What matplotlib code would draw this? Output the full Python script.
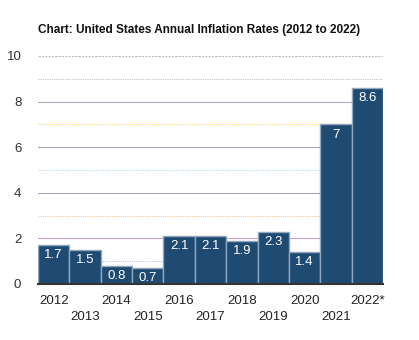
import matplotlib
matplotlib.use("Agg")
import matplotlib.pyplot as plt

years = ["2012", "2013", "2014", "2015", "2016", "2017", "2018", "2019", "2020", "2021", "2022*"]
rates = [1.7, 1.5, 0.8, 0.7, 2.1, 2.1, 1.9, 2.3, 1.4, 7.0, 8.6]
labels = ["1.7", "1.5", "0.8", "0.7", "2.1", "2.1", "1.9", "2.3", "1.4", "7", "8.6"]
yticks = [0, 2, 4, 6, 8, 10]
title = "Chart: United States Annual Inflation Rates (2012 to 2022)"

plt.rcParams['font.family'] = ['Liberation Sans', 'DejaVu Sans']

fig = plt.figure(figsize=(4.19, 3.4), dpi=100)
ax = fig.add_axes([38/419, 1-284/340, (383-38)/419, (284-56)/340])

# gridlines
minor_colors = {1: "#b8c8e0", 3: "#f0c8a0", 5: "#b8d8f0", 7: "#f0e070", 9: "#c0c0c0"}
major_colors = {2: "#c8a0c8", 4: "#b0a0b8", 6: "#b0a0b8", 8: "#b0a8b8", 10: "#c0c0c0"}
for v, c in minor_colors.items():
    ax.axhline(v, color=c, lw=0.8, ls=(0, (1, 1)), zorder=0)
for v, c in major_colors.items():
    ax.axhline(v, color=c, lw=0.8, ls=(0, (2, 1)) if v == 10 else "-", zorder=0)

x = list(range(len(years)))
bars = ax.bar(x, rates, width=1.0, color="#1f4a72", edgecolor="#8fa8c0", linewidth=1.0, zorder=2)
for xi, r, lab in zip(x, rates, labels):
    ax.text(xi, r - 0.18, lab, ha="center", va="top", color="white", fontsize=9.5, zorder=3)

ax.set_xlim(-0.5, len(years) - 0.5)
ax.set_ylim(0, 10)
ax.set_yticks(yticks)
ax.set_yticklabels([str(t) for t in yticks], fontsize=9.5, color="#333333")
ax.tick_params(axis="y", length=0, pad=12)
ax.set_xticks(x)
ax.set_xticklabels([])
ax.tick_params(axis="x", length=0)
for xi, y in zip(x, years):
    off = 0 if xi % 2 == 0 else 1
    ax.annotate(y, (xi, 0), xytext=(0, -8 - off * 11.5), textcoords="offset points",
                ha="center", va="top", fontsize=9.5, color="#222222", annotation_clip=False)

for s in ["top", "right", "left"]:
    ax.spines[s].set_visible(False)
ax.spines["bottom"].set_color("#333333")
ax.spines["bottom"].set_linewidth(1.5)
ax.spines["bottom"].set_zorder(4)

fig.text(38/419, 1-30/340, title, fontsize=8.5, fontweight="bold", ha="left", va="center", color="#111111")

fig.savefig("out.png", dpi=100)
